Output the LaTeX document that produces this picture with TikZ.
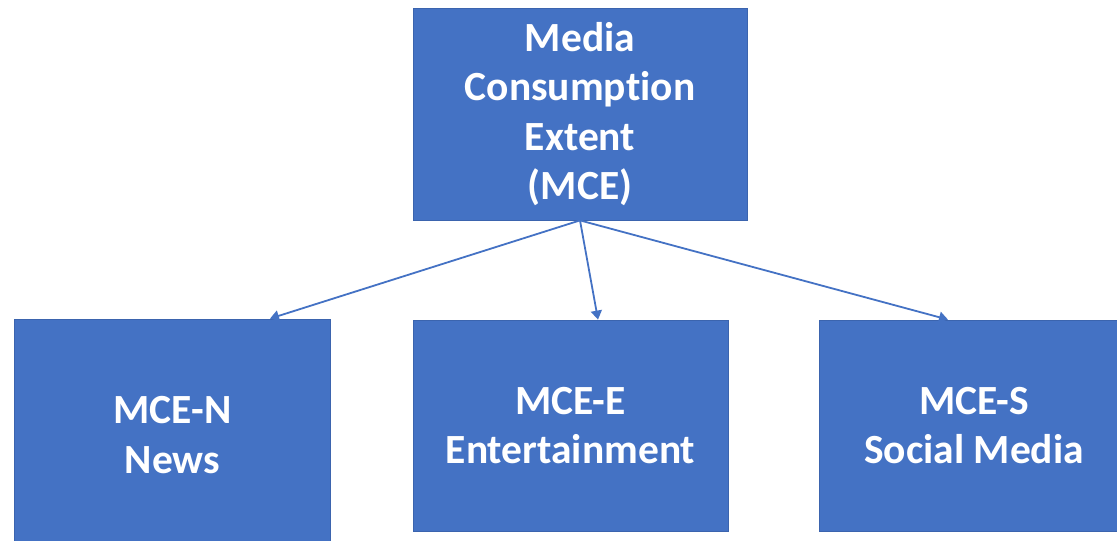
\documentclass[tikz,border=0pt]{standalone}
\usepackage{fontspec}
\setmainfont[Ligatures=NoCommon]{Carlito}
\usetikzlibrary{arrows.meta}
\definecolor{boxblue}{HTML}{4472C4}
\definecolor{boxedge}{HTML}{3B64AE}

\begin{document}
\begin{tikzpicture}[
        x                       = 1pt,
        y                       = -1pt,
        box/.style              = {rectangle, fill=boxblue, draw=boxedge, line width=0.8pt, text=white, align=center, inner sep=0pt, font=\fontsize{41.5}{49.5}\selectfont\bfseries},
        link/.style             = {draw=boxblue, line width=1.8pt, -{Triangle[width=11pt, length=9pt]}},
        %shorten >= 1pt
      ]
        \clip (0,0) rectangle (1117,541);
        \node[box, minimum width=334pt, minimum height=212pt] (mce) at (580,114) {Media\\Consumption\\Extent\\(MCE)};
        \node[box, minimum width=316pt, minimum height=232pt] (news) at (172.5,435) {MCE-N\\News};
        \node[box, minimum width=315pt, minimum height=211pt] (ent) at (570.5,425.5) {MCE-E\\Entertainment};
        \node[box, minimum width=310pt, minimum height=211pt] (soc) at (974,425.5) {MCE-S\\Social Media};
        \draw[link] (mce.south) -- ([xshift=97.5pt]news.north);
        \draw[link] (mce.south) -- ([xshift=27.5pt]ent.north);
        \draw[link] (mce.south) -- ([xshift=-26pt]soc.north);
    \end{tikzpicture}
\end{document}
